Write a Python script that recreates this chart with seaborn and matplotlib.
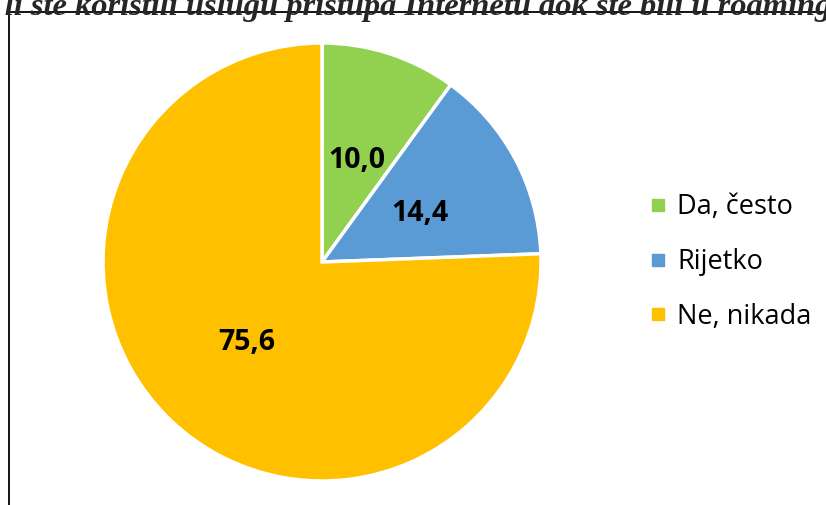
import matplotlib
matplotlib.use('Agg')
import matplotlib.pyplot as plt
import seaborn as sns
from matplotlib.lines import Line2D

odgovori = ['Da, često', 'Rijetko', 'Ne, nikada']
postoci = [10.0, 14.4, 75.6]
boje = ['#92D050', '#5B9BD5', '#FFC000']
naslov = 'Jeste li ste koristili uslugu pristupa Internetu dok ste bili u roamingu'

sns.set_theme(style='white')
plt.rcParams['font.family'] = ['Open Sans', 'DejaVu Sans']

fig = plt.figure(figsize=(8.26, 5.05), dpi=100)
fig.patch.set_facecolor('white')

# okvir grafikona (dio je odrezan)
fig.add_artist(Line2D([9 / 826, 9 / 826], [0, 1 - 12 / 505], color='black', lw=1.3))
fig.add_artist(Line2D([9 / 826, 1], [1 - 12 / 505, 1 - 12 / 505], color='black', lw=1.3))

fig.text(-0.085, 1 - 15 / 505, naslov, fontsize=23.4, fontweight='bold', style='italic',
         family='Liberation Serif', ha='left', va='baseline')

ax = fig.add_axes([(322 - 219) / 826, (243 - 219) / 505, 438 / 826, 438 / 505])
wedges, _ = ax.pie(postoci, colors=boje, startangle=90, counterclock=False,
                   wedgeprops={'edgecolor': 'white', 'linewidth': 2.5})
ax.set_xlim(-1, 1)
ax.set_ylim(-1, 1)
ax.set_aspect('equal')
ax.axis('off')

pozicije = [(357, 160), (420, 213), (247, 343)]
for v, (px, py) in zip(postoci, pozicije):
    x = (px - 322) / 219
    y = (262 - py) / 219
    ax.text(x, y, f'{v:.1f}'.replace('.', ','), fontsize=20.5, fontweight='bold',
            ha='center', va='center', color='black')

handles = [Line2D([], [], marker='s', linestyle='', markersize=9, color=c) for c in boje]
fig.legend(handles, odgovori, loc='center left', bbox_to_anchor=(634 / 826, 1 - 262 / 505),
           frameon=False, fontsize=19.5, handletextpad=0.2, labelspacing=0.98,
           handlelength=1.0, borderaxespad=0, labelcolor='black')

fig.savefig('out.png', dpi=100, facecolor='white')
